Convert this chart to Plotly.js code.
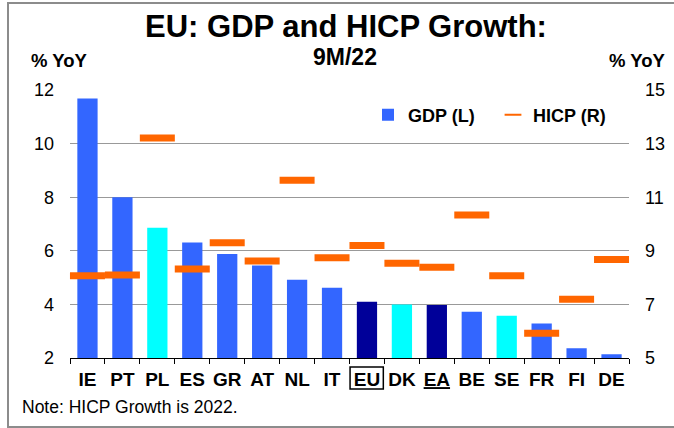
<!DOCTYPE html>
<html>
<head>
<meta charset="utf-8">
<script src="https://cdn.plot.ly/plotly-3.0.1.min.js"></script>
<style>
  html, body { margin: 0; padding: 0; background: #ffffff; }
  #chart { width: 674px; height: 428px; }
</style>
</head>
<body>
<div id="chart"></div>
<script>
// ---- data ----
const categories = ['IE','PT','PL','ES','GR','AT','NL','IT','EU','DK','EA','BE','SE','FR','FI','DE'];
const gdpGrowth  = [11.68, 8.0, 6.86, 6.31, 5.88, 5.45, 4.92, 4.62, 4.1, 4.0, 3.98, 3.73, 3.58, 3.29, 2.36, 2.14];
const hicpGrowth = [8.07, 8.1, 13.21, 8.32, 9.3, 8.62, 11.63, 8.74, 9.2, 8.54, 8.39, 10.34, 8.07, 5.92, 7.19, 8.68];
const leftTicks  = [2, 4, 6, 8, 10, 12];
const rightTicks = [5, 7, 9, 11, 13, 15];

// ---- styles ----
const BLUE = '#3366FF', CYAN = '#00FFFF', NAVY = '#000099', ORANGE = '#FF6600';
const cyanSet = ['PL', 'DK', 'SE'];
const navySet = ['EU', 'EA'];
const barColors = categories.map(c => cyanSet.includes(c) ? CYAN : (navySet.includes(c) ? NAVY : BLUE));
const tickText = categories.map(c => c === 'EA' ? '<u>EA</u>' : c);
const FONT = 'Arial, "Liberation Sans", sans-serif';

// layout geometry (pixels)
const W = 674, H = 428;
const M = {l: 70, r: 45, t: 90, b: 70};
const plotW = W - M.l - M.r, plotH = H - M.t - M.b;
const px = x => (x - M.l) / plotW;
const py = y => (H - M.b - y) / plotH;

const boxIdx = categories.indexOf('EU');

const traces = [
  {
    type: 'bar',
    name: 'GDP (L)',
    x: categories,
    y: gdpGrowth,
    yaxis: 'y',
    width: 0.58,
    marker: {color: barColors, line: {width: 0}},
    hoverinfo: 'skip'
  },
  {
    type: 'scatter',
    mode: 'markers',
    name: 'HICP (R)',
    x: categories,
    y: hicpGrowth,
    yaxis: 'y2',
    cliponaxis: false,
    marker: {symbol: 'line-ew', size: 25, color: ORANGE, line: {color: ORANGE, width: 7}},
    hoverinfo: 'skip'
  }
];

const layout = {
  width: W, height: H,
  margin: M,
  paper_bgcolor: '#ffffff',
  plot_bgcolor: '#ffffff',
  font: {family: FONT, color: '#000000', size: 17},
  showlegend: true,
  title: {
    text: 'EU: GDP and HICP Growth:',
    font: {family: FONT, size: 31, weight: 'bold', color: '#000000'},
    xref: 'container', x: 346 / W, xanchor: 'center',
    yref: 'container', y: 1 - 26 / H, yanchor: 'middle'
  },
  legend: {
    orientation: 'h',
    x: px(368), xanchor: 'left',
    y: py(115), yanchor: 'middle',
    bgcolor: 'rgba(0,0,0,0)',
    borderwidth: 0,
    itemsizing: 'constant',
    entrywidth: 80, entrywidthmode: 'pixels',
    font: {family: FONT, size: 18, weight: 'bold', color: '#000000'}
  },
  bargap: 0.42,
  xaxis: {
    type: 'category',
    range: [-0.5, categories.length - 0.5],
    tickmode: 'array',
    tickvals: categories,
    ticktext: tickText,
    tickangle: 0,
    tickson: 'boundaries',
    ticks: 'outside', ticklen: 5, tickwidth: 1, tickcolor: '#000000',
    showline: true, linecolor: '#000000', linewidth: 1.3,
    showgrid: false, zeroline: false,
    tickfont: {family: FONT, size: 19, weight: 'bold', color: '#000000'},
    ticklabelstandoff: 4,
    fixedrange: true
  },
  yaxis: {
    range: [2, 12],
    tickmode: 'array', tickvals: leftTicks,
    showgrid: true, gridcolor: '#999999', gridwidth: 1.2,
    zeroline: false, showline: false, ticks: '',
    tickfont: {family: FONT, size: 18, color: '#000000'},
    ticklabelstandoff: 15,
    fixedrange: true
  },
  yaxis2: {
    range: [5, 15],
    overlaying: 'y', side: 'right',
    tickmode: 'array', tickvals: rightTicks,
    showgrid: false, zeroline: false, showline: false, ticks: '',
    tickfont: {family: FONT, size: 18, color: '#000000'},
    ticklabelstandoff: 15,
    fixedrange: true
  },
  annotations: [
    {text: '9M/22', xref: 'paper', yref: 'paper', x: px(345), y: py(57), xanchor: 'center', yanchor: 'middle',
     showarrow: false, font: {family: FONT, size: 23, weight: 'bold', color: '#000000'}},
    {text: '% YoY', xref: 'paper', yref: 'paper', x: px(59), y: py(60), xanchor: 'center', yanchor: 'middle',
     showarrow: false, font: {family: FONT, size: 18.5, weight: 'bold', color: '#000000'}},
    {text: '% YoY', xref: 'paper', yref: 'paper', x: px(637), y: py(60), xanchor: 'center', yanchor: 'middle',
     showarrow: false, font: {family: FONT, size: 18.5, weight: 'bold', color: '#000000'}},
    {text: 'Note: HICP Growth is 2022.', xref: 'paper', yref: 'paper', x: px(20), y: py(406.5), xanchor: 'left', yanchor: 'middle',
     showarrow: false, font: {family: FONT, size: 17.5, color: '#000000'}}
  ],
  shapes: [
    {type: 'rect', xref: 'paper', yref: 'paper',
     x0: px(8), x1: px(675), y0: py(427), y1: py(3),
     line: {color: '#8c8c8c', width: 2}, fillcolor: 'rgba(0,0,0,0)', layer: 'below'},
    {type: 'rect', xref: 'paper', yref: 'paper',
     x0: boxIdx / categories.length + 0.001, x1: (boxIdx + 1) / categories.length - 0.002,
     y0: py(389), y1: py(367),
     line: {color: '#000000', width: 1.5}, fillcolor: 'rgba(0,0,0,0)'}
  ]
};

Plotly.newPlot('chart', traces, layout, {displayModeBar: false, staticPlot: true});
</script>
</body>
</html>
